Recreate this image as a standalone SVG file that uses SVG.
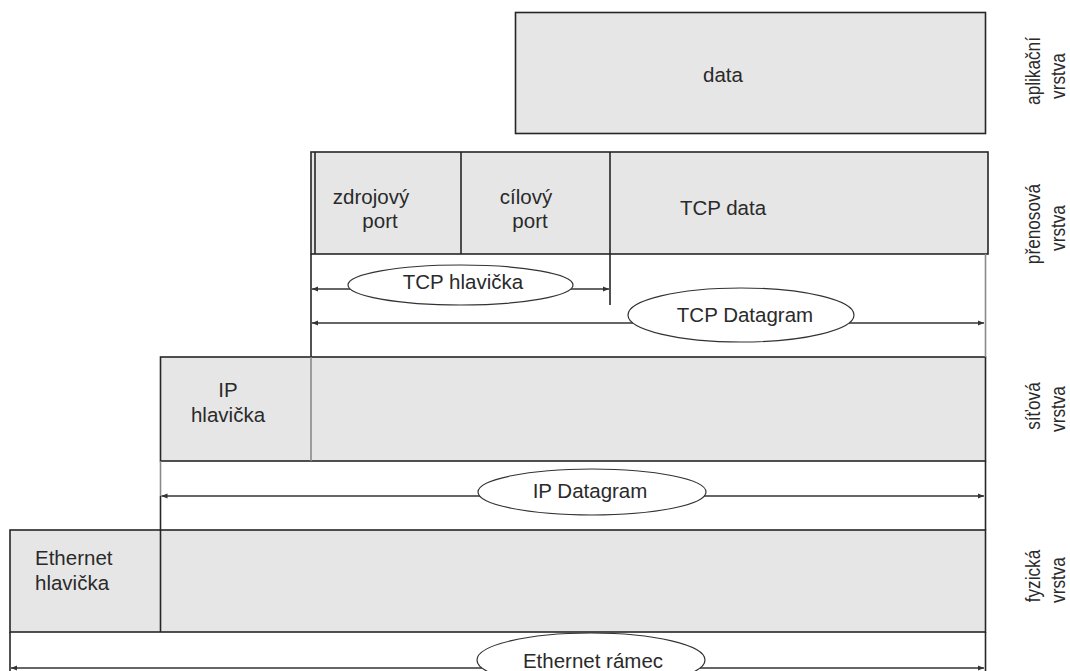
<svg xmlns="http://www.w3.org/2000/svg" width="1070" height="671" viewBox="0 0 1070 671">
<style>
.box{fill:#e6e6e6;stroke:#262626;stroke-width:1.6}
.ln{stroke:#262626;stroke-width:1.6;fill:none}
.lg{stroke:#8a8a8a;stroke-width:1.6;fill:none}
.arr{stroke:#333;stroke-width:1.4;fill:none;marker-start:url(#ah);marker-end:url(#ah)}
.ell{fill:#fff;stroke:#333;stroke-width:1.2}
.t{font-family:"Liberation Sans",Arial,sans-serif;font-size:20.5px;fill:#2a2a2a;text-anchor:middle}
.tl{font-family:"Liberation Sans",Arial,sans-serif;font-size:20.5px;fill:#2a2a2a}
.s{font-family:"Liberation Sans",Arial,sans-serif;font-size:20px;fill:#2a2a2a;text-anchor:middle}
</style>
<defs>
<marker id="ah" markerUnits="userSpaceOnUse" markerWidth="7" markerHeight="6" refX="6" refY="3" orient="auto-start-reverse">
<path d="M0,0.5 L6,3 L0,5.5 z" fill="#333"/>
</marker>
</defs>
<rect width="1070" height="671" fill="#fff"/>

<g id="app-data">
<rect class="box" x="515.5" y="12.5" width="470" height="121"/>
<text class="t" x="723" y="82">data</text>
</g>

<g id="tcp-segment">
<rect class="box" x="311" y="152" width="677" height="102"/>
<line class="ln" x1="315" y1="152" x2="315" y2="254"/>
<line class="ln" x1="461" y1="152" x2="461" y2="254"/>
<line class="ln" x1="610" y1="152" x2="610" y2="305"/>
<text class="t" x="371" y="204">zdrojový</text>
<text class="t" x="380" y="228">port</text>
<text class="t" x="526" y="204">cílový</text>
<text class="t" x="530" y="228">port</text>
<text class="t" x="723" y="215">TCP data</text>
</g>

<g id="ip-packet">
<rect class="box" x="160.5" y="357" width="825" height="104"/>
<line class="lg" x1="311" y1="357" x2="311" y2="461"/>
<text class="t" x="228" y="397">IP</text>
<text class="t" x="228" y="422">hlavička</text>
</g>

<g id="eth-frame">
<rect class="box" x="10" y="530" width="975.5" height="102"/>
<line class="ln" x1="160.5" y1="530" x2="160.5" y2="632"/>
<text class="tl" x="35" y="565">Ethernet</text>
<text class="tl" x="35" y="590">hlavička</text>
</g>

<g id="connectors">
<line class="ln" x1="311" y1="254" x2="311" y2="357"/>
<line class="lg" x1="985.5" y1="254" x2="985.5" y2="357"/>
<line class="lg" x1="160.5" y1="461" x2="160.5" y2="496"/>
<line class="ln" x1="160.5" y1="496" x2="160.5" y2="530"/>
<line class="ln" x1="985.5" y1="461" x2="985.5" y2="530"/>
<line class="ln" x1="10" y1="632" x2="10" y2="671"/>
<line class="ln" x1="985.5" y1="632" x2="985.5" y2="671"/>
<line class="arr" x1="312" y1="289" x2="609" y2="289"/>
<line class="arr" x1="312" y1="323" x2="984" y2="323"/>
<line class="arr" x1="161.5" y1="496" x2="984" y2="496"/>
<line class="arr" x1="11" y1="668" x2="984" y2="668"/>
</g>

<g id="lbl-tcp-header">
<ellipse class="ell" cx="460.5" cy="285" rx="112.5" ry="20"/>
<text class="t" x="463" y="289">TCP hlavička</text>
</g>
<g id="lbl-tcp-datagram">
<ellipse class="ell" cx="741" cy="315" rx="113" ry="27"/>
<text class="t" x="745" y="322">TCP Datagram</text>
</g>
<g id="lbl-ip-datagram">
<ellipse class="ell" cx="592" cy="492" rx="114" ry="23"/>
<text class="t" x="590" y="498">IP Datagram</text>
</g>
<g id="lbl-eth-frame">
<ellipse class="ell" cx="591" cy="660" rx="114" ry="27"/>
<text class="t" x="593" y="668">Ethernet rámec</text>
</g>

<g id="layer-app">
<text class="s" transform="translate(1040,71) rotate(-90) scale(0.86,1)">aplikační</text>
<text class="s" transform="translate(1065,76) rotate(-90) scale(0.86,1)">vrstva</text>
</g>
<g id="layer-transport">
<text class="s" transform="translate(1040,224) rotate(-90) scale(0.86,1)">přenosová</text>
<text class="s" transform="translate(1065,228) rotate(-90) scale(0.86,1)">vrstva</text>
</g>
<g id="layer-network">
<text class="s" transform="translate(1040,406) rotate(-90) scale(0.86,1)">síťová</text>
<text class="s" transform="translate(1065,409) rotate(-90) scale(0.86,1)">vrstva</text>
</g>
<g id="layer-physical">
<text class="s" transform="translate(1040,576) rotate(-90) scale(0.86,1)">fyzická</text>
<text class="s" transform="translate(1065,580) rotate(-90) scale(0.86,1)">vrstva</text>
</g>
</svg>
